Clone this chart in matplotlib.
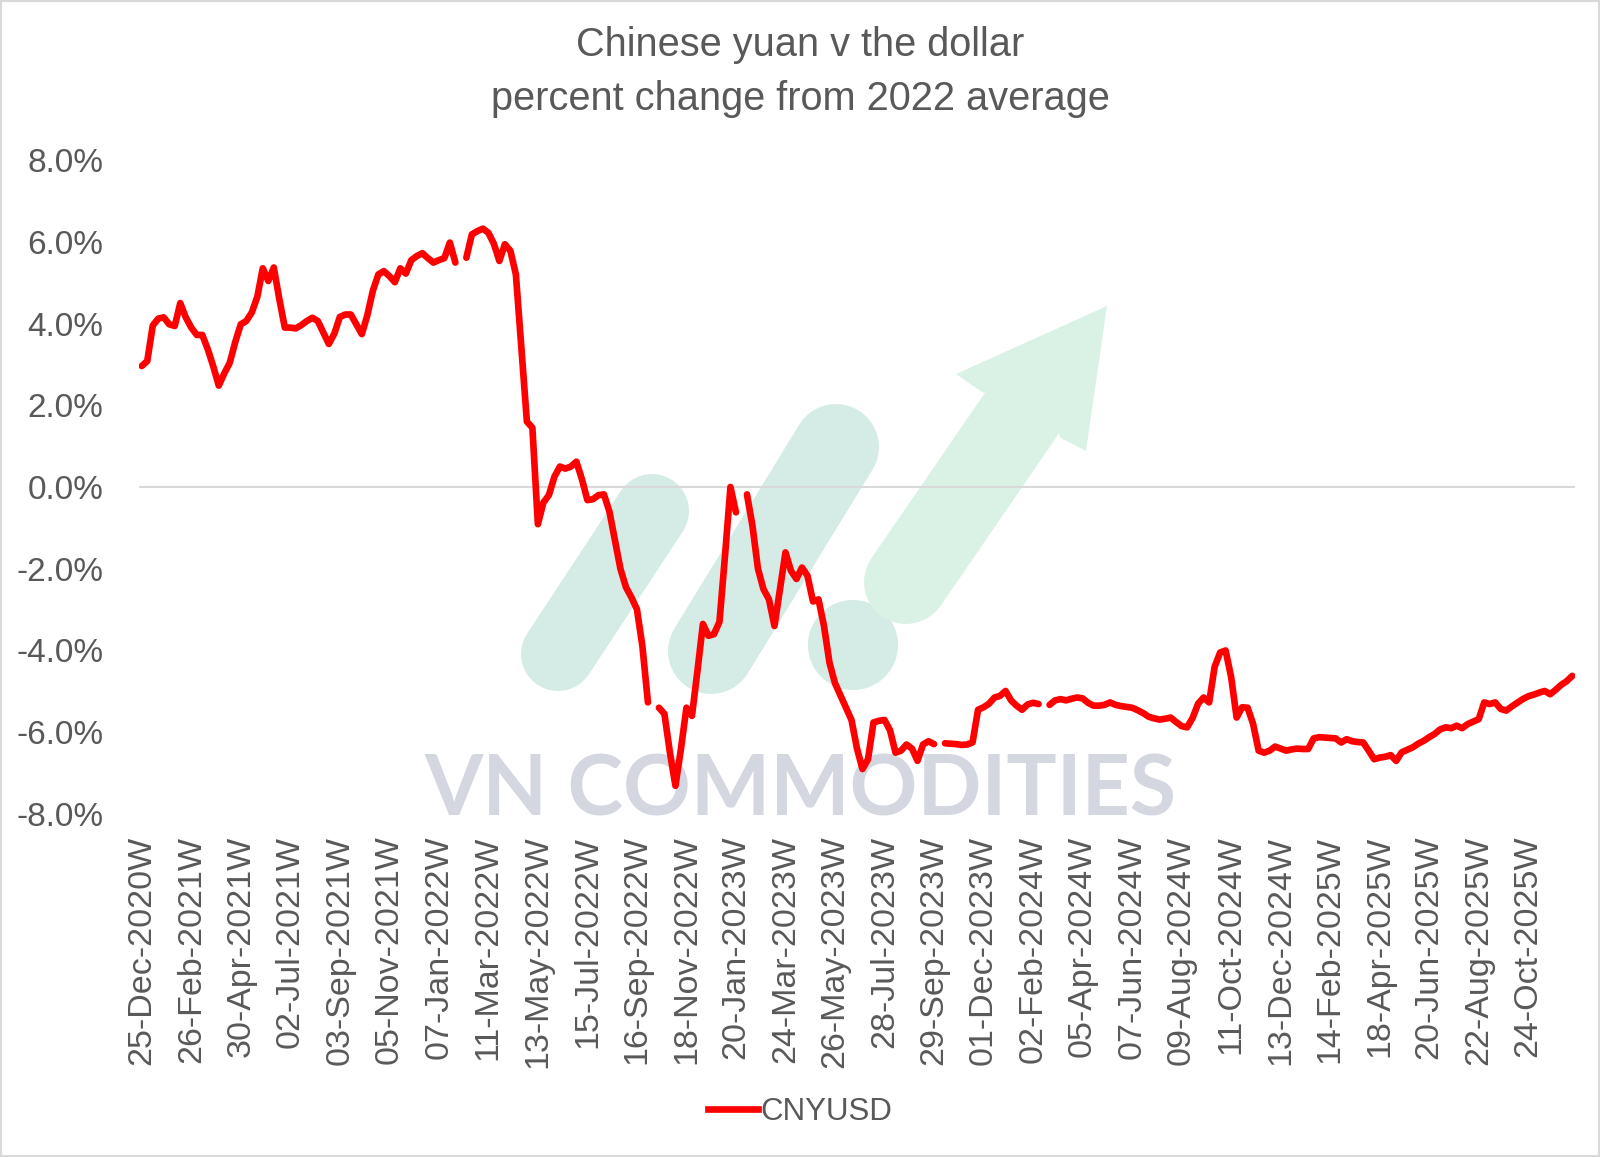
import matplotlib
matplotlib.use("Agg")
import matplotlib.pyplot as plt
import numpy as np
import pandas as pd
from matplotlib import font_manager
from matplotlib.patches import Circle, Polygon, Rectangle
from matplotlib.lines import Line2D

# ---------------- data ----------------
title_lines = ["Chinese yuan v the dollar", "percent change from 2022 average"]
series_name = "CNYUSD"
weeks = pd.date_range("2020-12-25", periods=261, freq="7D")
nan = np.nan
cnyusd = [
    2.96, 3.08, 3.95, 4.12, 4.15, 3.98, 3.94, 4.50, 4.15, 3.90,
    3.72, 3.72, 3.37, 2.95, 2.48, 2.78, 3.04, 3.55, 3.98, 4.06,
    4.27, 4.65, 5.35, 5.04, 5.37, 4.60, 3.90, 3.90, 3.88, 3.96,
    4.06, 4.14, 4.06, 3.78, 3.50, 3.75, 4.16, 4.22, 4.22, 3.98,
    3.74, 4.20, 4.80, 5.20, 5.28, 5.16, 5.01, 5.35, 5.22, 5.55,
    5.65, 5.72, 5.60, 5.49, 5.55, 5.60, 5.98, 5.49, nan, 5.61,
    6.18, 6.26, 6.32, 6.22, 5.95, 5.53, 5.94, 5.78, 5.20, 3.40,
    1.60, 1.45, -0.91, -0.38, -0.20, 0.25, 0.50, 0.45, 0.50, 0.62,
    0.19, -0.32, -0.30, -0.20, -0.18, -0.60, -1.30, -2.00, -2.45, -2.70,
    -2.99, -3.90, -5.27, nan, -5.40, -5.55, -6.50, -7.31, -6.41, -5.40,
    -5.60, -4.50, -3.35, -3.64, -3.60, -3.30, -1.70, 0.00, -0.62, nan,
    -0.18, -0.95, -2.00, -2.50, -2.75, -3.40, -2.50, -1.60, -2.05, -2.25,
    -1.97, -2.17, -2.80, -2.75, -3.40, -4.30, -4.80, -5.10, -5.40, -5.70,
    -6.40, -6.90, -6.66, -5.76, -5.72, -5.70, -5.95, -6.50, -6.45, -6.30,
    -6.40, -6.70, -6.30, -6.22, -6.29, nan, -6.27, -6.28, -6.29, -6.31,
    -6.30, -6.25, -5.45, -5.39, -5.30, -5.15, -5.11, -4.99, -5.22, -5.35,
    -5.45, -5.32, -5.28, -5.31, nan, -5.33, -5.22, -5.19, -5.22, -5.18,
    -5.15, -5.17, -5.28, -5.35, -5.35, -5.33, -5.27, -5.33, -5.36, -5.38,
    -5.40, -5.46, -5.53, -5.62, -5.66, -5.69, -5.67, -5.64, -5.75, -5.85,
    -5.88, -5.65, -5.30, -5.15, -5.27, -4.40, -4.05, -4.00, -4.65, -5.64,
    -5.39, -5.40, -5.80, -6.45, -6.50, -6.45, -6.35, -6.40, -6.45, -6.42,
    -6.40, -6.41, -6.41, -6.15, -6.12, -6.13, -6.14, -6.15, -6.25, -6.17,
    -6.22, -6.24, -6.25, -6.45, -6.66, -6.62, -6.60, -6.56, -6.70, -6.49,
    -6.43, -6.37, -6.28, -6.21, -6.12, -6.04, -5.93, -5.88, -5.90, -5.84,
    -5.90, -5.80, -5.74, -5.68, -5.27, -5.31, -5.27, -5.43, -5.47, -5.37,
    -5.28, -5.19, -5.12, -5.08, -5.03, -4.99, -5.07, -4.96, -4.84, -4.75,
    -4.62,
]
tick_labels = [
    "25-Dec-2020W", "26-Feb-2021W", "30-Apr-2021W", "02-Jul-2021W", "03-Sep-2021W",
    "05-Nov-2021W", "07-Jan-2022W", "11-Mar-2022W", "13-May-2022W", "15-Jul-2022W",
    "16-Sep-2022W", "18-Nov-2022W", "20-Jan-2023W", "24-Mar-2023W", "26-May-2023W",
    "28-Jul-2023W", "29-Sep-2023W", "01-Dec-2023W", "02-Feb-2024W", "05-Apr-2024W",
    "07-Jun-2024W", "09-Aug-2024W", "11-Oct-2024W", "13-Dec-2024W", "14-Feb-2025W",
    "18-Apr-2025W", "20-Jun-2025W", "22-Aug-2025W", "24-Oct-2025W",
]
y_ticks = [-8, -6, -4, -2, 0, 2, 4, 6, 8]
watermark = "VN COMMODITIES"


# ---------------- fonts ----------------
def pick(fams):
    for f in fams:
        try:
            font_manager.findfont(font_manager.FontProperties(family=f), fallback_to_default=False)
            return f
        except Exception:
            pass
    return "DejaVu Sans"


narrow = pick(["Liberation Sans Narrow"])
has_narrow = narrow == "Liberation Sans Narrow"
sans = pick(["Liberation Sans", "Arial", "DejaVu Sans"])
title_font = narrow if has_narrow else sans
title_size = 34 if has_narrow else 28.6
wm_font = pick(["Lato", "Open Sans", "DejaVu Sans"])

GRAY = "#595959"
RED = "#FF0000"
LW = 4.8
W, H = 1600, 1157
fig = plt.figure(figsize=(W / 100, H / 100), dpi=100)
fig.patch.set_facecolor("white")

# ---------------- watermark / frame layer (pixel coords) ----------------
ov = fig.add_axes([0, 0, 1, 1], zorder=0)
ov.set_xlim(0, W)
ov.set_ylim(H, 0)
ov.axis("off")

teal = "#D5EBE5"
green = "#DAF2E5"
px = 0.72  # points per pixel at 100 dpi
ov.plot([558, 652], [654, 511], color=teal, lw=74 * px, solid_capstyle="round")
ov.plot([711, 836], [651, 447], color=teal, lw=86 * px, solid_capstyle="round")
ov.add_patch(Circle((853, 645), 45, color=teal, lw=0))
ov.plot([906, 1020], [582, 416], color=green, lw=84 * px, solid_capstyle="round")
ov.add_patch(Polygon([(1107, 306), (956, 374), (982, 392), (1040, 403), (1061, 438),
                      (1086, 451)], closed=True, color=green, lw=0))
ov.text(800, 791, watermark, ha="center", va="center", fontsize=60.5, fontweight="bold",
        color="#D4D7E0", family=wm_font)
ov.add_patch(Rectangle((1, 1), W - 2, H - 2, fill=False, ec="#D9D9D9", lw=1.5, clip_on=False))

# ---------------- main chart ----------------
ax = fig.add_axes([139 / W, 1 - 814 / H, (1575 - 139) / W, (814 - 160) / H], zorder=1)
ax.set_facecolor("none")

x = np.arange(len(weeks))
ax.axhline(0, color="#D9D9D9", lw=1.5, zorder=1)
ax.plot(x, cnyusd, color=RED, lw=LW, solid_joinstyle="round",
        solid_capstyle="round", zorder=3, label=series_name)

week_labels = [d.strftime("%d-%b-%Y") + "W" for d in weeks]
tick_pos = [week_labels.index(t) for t in tick_labels]
ax.set_xlim(-0.5, len(weeks) - 0.5)
ax.set_ylim(-8, 8)
ax.set_xticks(tick_pos)
ax.set_xticklabels(tick_labels, rotation=90, fontsize=24.5, color=GRAY, family=sans)
ax.set_yticks(y_ticks)
ax.set_yticklabels([f"{v:.1f}%" for v in y_ticks], fontsize=24, color=GRAY, family=sans)
ax.tick_params(axis="both", length=0)
ax.tick_params(axis="x", pad=15.5)
ax.tick_params(axis="y", pad=25.5)
for s in ax.spines.values():
    s.set_visible(False)

fig.text(0.5, 1 - 45 / H, title_lines[0], ha="center", va="center", fontsize=title_size,
         color=GRAY, family=title_font)
fig.text(0.5, 1 - 99 / H, title_lines[1], ha="center", va="center", fontsize=title_size,
         color=GRAY, family=title_font)

fig.legend(handles=[Line2D([0], [0], color=RED, lw=LW)], labels=[series_name],
           loc="center", bbox_to_anchor=(0.5, 1 - 1112 / H), frameon=False,
           handlelength=1.6, handletextpad=0.08, labelcolor=GRAY,
           prop={"family": sans, "size": 22.5})

fig.savefig("out.png", dpi=100, facecolor="white")
